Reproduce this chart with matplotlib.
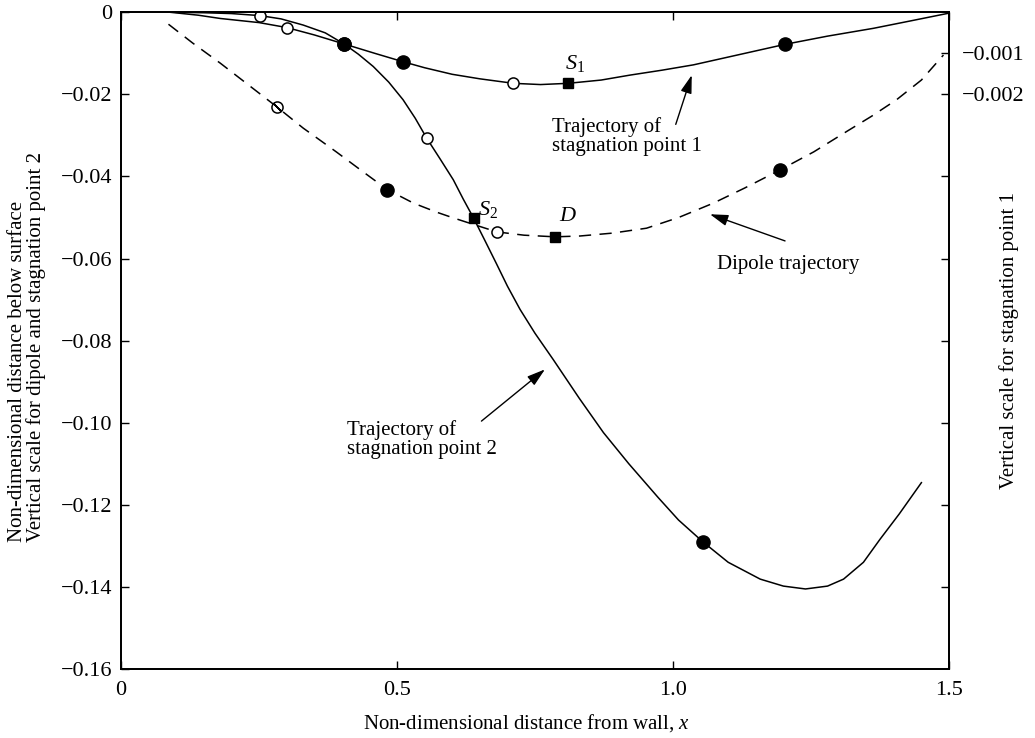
import numpy as np
import matplotlib.pyplot as plt

plt.rcParams['font.family'] = ['Liberation Serif', 'DejaVu Serif']
plt.rcParams['mathtext.fontset'] = 'custom'
plt.rcParams['mathtext.rm'] = 'Liberation Serif'
plt.rcParams['mathtext.it'] = 'Liberation Serif:italic'

# trajectory of stagnation point 1 (right-hand scale)
s1_x = [0.09, 0.14, 0.18, 0.25, 0.30, 0.35, 0.404, 0.46, 0.51, 0.55, 0.60, 0.65,
        0.711, 0.76, 0.81, 0.87, 0.922, 0.98, 1.037, 1.12, 1.203, 1.28, 1.363,
        1.43, 1.50]
s1_y = [0.0, -0.00007, -0.00015, -0.00025, -0.00037, -0.00055, -0.00077, -0.00100,
        -0.00120, -0.00135, -0.00151, -0.00162, -0.00173, -0.00176, -0.00173,
        -0.00165, -0.00153, -0.00141, -0.00128, -0.00103, -0.00078, -0.00058,
        -0.00039, -0.00021, -0.00002]

# trajectory of stagnation point 2 (left-hand scale)
s2_x = [0.10, 0.15, 0.20, 0.252, 0.29, 0.33, 0.37, 0.404, 0.43, 0.457, 0.485,
        0.511, 0.533, 0.554, 0.578, 0.602, 0.62, 0.639, 0.66, 0.68, 0.70, 0.723,
        0.75, 0.783, 0.83, 0.874, 0.92, 0.973, 1.01, 1.054, 1.10, 1.158, 1.20,
        1.24, 1.28, 1.309, 1.345, 1.375, 1.41, 1.45]
s2_y = [0.0, -0.0001, -0.0003, -0.0008, -0.0016, -0.0031, -0.0050, -0.0077,
        -0.0102, -0.0132, -0.0170, -0.0213, -0.0258, -0.0307, -0.0357, -0.0408,
        -0.0455, -0.0502, -0.0558, -0.0612, -0.0667, -0.0724, -0.0782, -0.0846,
        -0.0940, -0.1024, -0.1100, -0.1182, -0.1237, -0.1290, -0.1340, -0.1381,
        -0.1398, -0.1405, -0.1398, -0.1381, -0.1340, -0.1284, -0.1222, -0.1146]

# dipole trajectory (left-hand scale)
dip_x = [0.086, 0.13, 0.18, 0.23, 0.282, 0.33, 0.39, 0.44, 0.4825, 0.53, 0.572,
         0.60, 0.639, 0.681, 0.73, 0.786, 0.8315, 0.89, 0.952, 1.01, 1.073, 1.13,
         1.194, 1.255, 1.315, 1.36, 1.405, 1.45, 1.49]
dip_y = [-0.0029, -0.0075, -0.0124, -0.0176, -0.0230, -0.0282, -0.0340, -0.0390,
         -0.0432, -0.0465, -0.0487, -0.0500, -0.0517, -0.0535, -0.0543, -0.0547,
         -0.0545, -0.0538, -0.0526, -0.0500, -0.0465, -0.0428, -0.0384, -0.0340,
         -0.0290, -0.0253, -0.0213, -0.0165, -0.0104]

# marked positions on each trajectory
s1_open = ([0.300, 0.711], [-0.00037, -0.00173])
s1_fill = ([0.404, 0.510, 1.203], [-0.00077, -0.00120, -0.00078])
s1_square = ([0.810], [-0.00173])

s2_open = ([0.252, 0.554], [-0.0008, -0.0307])
s2_fill = ([0.404, 1.054], [-0.0077, -0.1290])
s2_square = ([0.639], [-0.0502])

dip_slash = ([0.282], [-0.0230])
dip_open = ([0.681], [-0.0535])
dip_fill = ([0.4825, 1.194], [-0.0432, -0.0384])
dip_square = ([0.786], [-0.0547])

x_ticks = [0, 0.5, 1.0, 1.5]
x_labels = ['0', '0.5', '1.0', '1.5']
y_ticks = [0, -0.02, -0.04, -0.06, -0.08, -0.10, -0.12, -0.14, -0.16]
y_labels = ['0', '\u22120.02', '\u22120.04', '\u22120.06', '\u22120.08',
            '\u22120.10', '\u22120.12', '\u22120.14', '\u22120.16']
y2_ticks = [-0.001, -0.002, -0.004, -0.006, -0.008, -0.010, -0.012, -0.014]
y2_labels = ['\u22120.001', '\u22120.002', '', '', '', '', '', '']

fig = plt.figure(figsize=(10.35, 7.38), dpi=100)
ax = fig.add_axes([0.1169, 0.0935, 0.8, 0.8898])
ax2 = ax.twinx()

ax.set_xlim(0, 1.5)
ax.set_ylim(-0.16, 0)
ax2.set_ylim(-0.016, 0)

lw = 1.1
ax.plot(s2_x, s2_y, color='k', lw=lw)
ax.plot(dip_x, dip_y, color='k', lw=lw, ls=(0, (8, 5.5)))
ax2.plot(s1_x, s1_y, color='k', lw=lw)

open_kw = dict(ls='none', marker='o', ms=8, mfc='white', mec='k', mew=1.1)
fill_kw = dict(ls='none', marker='o', ms=9.5, color='k')
sq_kw = dict(ls='none', marker='s', ms=7.5, color='k')

ax.plot(*s2_open, **open_kw)
ax.plot(*s2_fill, **fill_kw)
ax.plot(*s2_square, **sq_kw)
ax.plot(*dip_open, **open_kw)
ax.plot(*dip_fill, **fill_kw)
ax.plot(*dip_square, **sq_kw)
ax.plot(*dip_slash, **open_kw)
ax.plot(*dip_slash, ls='none', marker=(2, 2, 45), ms=8, mec='k', mew=1.1)
ax2.plot(*s1_open, **open_kw)
ax2.plot(*s1_fill, **fill_kw)
ax2.plot(*s1_square, **sq_kw)

# point labels
ax.text(0.822, -0.0125, '$S_1$', ha='center', va='center', fontsize=16)
ax.text(0.6655, -0.0481, '$S_2$', ha='center', va='center', fontsize=16)
ax.text(0.8104, -0.0497, '$D$', ha='center', va='center', fontsize=16)

txt_kw = dict(ha='left', va='center', fontsize=15, linespacing=1.0)
ax.text(0.780, -0.0303, 'Trajectory of\nstagnation point 1', **txt_kw)
ax.text(1.080, -0.0615, 'Dipole trajectory', **txt_kw)
ax.text(0.41, -0.1040, 'Trajectory of\nstagnation point 2', **txt_kw)

arrow = dict(arrowstyle='-|>,head_length=0.55,head_width=0.17', color='k', lw=1,
             shrinkA=0, shrinkB=0, mutation_scale=20)
ax.annotate('', xy=(1.034, -0.0153), xytext=(1.005, -0.0273), arrowprops=arrow)
ax.annotate('', xy=(1.067, -0.0492), xytext=(1.203, -0.0557), arrowprops=arrow)
ax.annotate('', xy=(0.768, -0.0870), xytext=(0.653, -0.0996), arrowprops=arrow)

ax.set_xticks(x_ticks)
ax.set_xticklabels(x_labels)
ax.set_yticks(y_ticks)
ax.set_yticklabels(y_labels)
ax2.set_yticks(y2_ticks)
ax2.set_yticklabels(y2_labels)

ax.tick_params(direction='in', length=6, width=1, top=True, labelsize=16)
ax.tick_params(axis='y', pad=6)
ax.tick_params(axis='x', pad=9)
ax2.tick_params(direction='in', length=6, width=1, labelsize=16, pad=9)
for a in (ax, ax2):
    for sp in a.spines.values():
        sp.set_linewidth(1.3)

ax.set_xlabel('Non-dimensional distance from wall, $x$', fontsize=15)
ax.xaxis.set_label_coords(0.49, -0.065)
ax.set_ylabel('Non-dimensional distance below surface\n'
              'Vertical scale for dipole and stagnation point 2',
              fontsize=15, multialignment='left', linespacing=1.0)
ax.yaxis.set_label_coords(-0.09, 0.49)
ax2.set_ylabel('Vertical scale for stagnation point 1', fontsize=15)
ax2.yaxis.set_label_coords(1.06, 0.5)

fig.savefig('out.png', dpi=100)
